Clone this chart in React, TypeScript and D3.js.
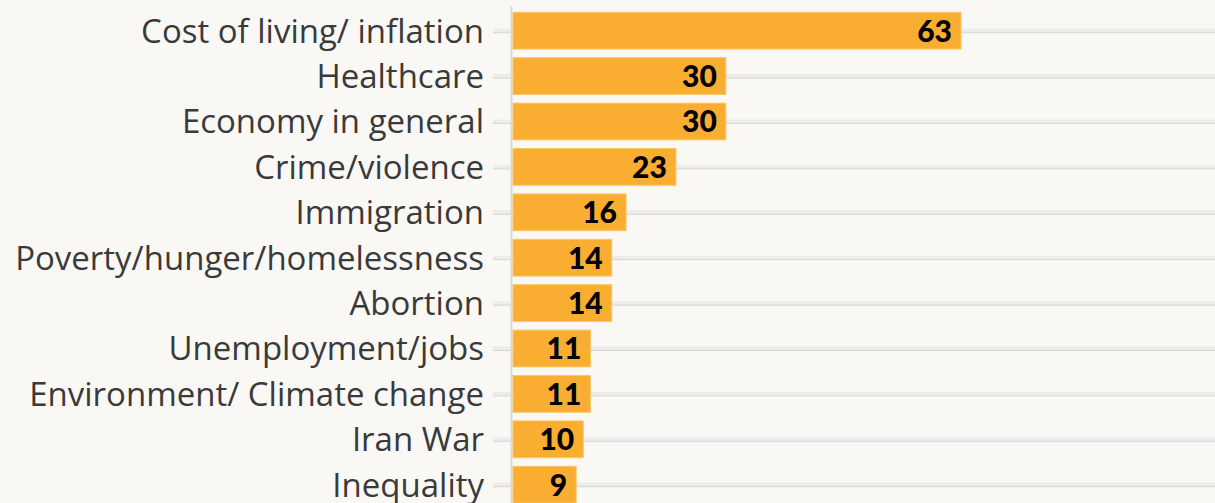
import { useEffect, useRef } from 'react'
import * as d3 from 'd3'

const categories = [
  'Cost of living/ inflation',
  'Healthcare',
  'Economy in general',
  'Crime/violence',
  'Immigration',
  'Poverty/hunger/homelessness',
  'Abortion',
  'Unemployment/jobs',
  'Environment/ Climate change',
  'Iran War',
  'Inequality',
]
const values = [63, 30, 30, 23, 16, 14, 14, 11, 11, 10, 9]

export default () => {
  const svgRef = useRef<SVGSVGElement>(null)

  useEffect(() => {
    const width = 1215,
      height = 503
    const margin = { top: 8, left: 512 }

    const svg = d3.select(svgRef.current)
    svg.selectAll('*').remove()
    svg
      .attr('width', width)
      .attr('height', height)
      .style('display', 'block')
      .style('background-color', '#f9f8f5')

    const x = d3.scaleLinear().domain([0, 63]).range([margin.left, 961])
    const y = d3
      .scaleBand()
      .domain(categories)
      .range([margin.top, margin.top + 45.4 * 11])
      .paddingInner(0.19)
      .paddingOuter(0.095)

    const rows = svg
      .selectAll('g.row')
      .data(categories)
      .join('g')
      .attr('class', 'row')
      .attr('transform', (d) => `translate(0,${y(d)! + y.bandwidth() / 2})`)

    // gridlines + left ticks
    rows
      .append('rect')
      .attr('x', 493)
      .attr('y', -2)
      .attr('width', width - 493)
      .attr('height', 4)
      .style('fill', '#ececea')
    rows
      .append('line')
      .attr('x1', 493)
      .attr('x2', width)
      .attr('y1', 2)
      .attr('y2', 2)
      .style('stroke', '#d6d6d4')
      .style('stroke-width', 1)

    // axis line
    svg
      .append('line')
      .attr('x1', 511.5)
      .attr('x2', 511.5)
      .attr('y1', 6)
      .attr('y2', height)
      .style('stroke', '#d9d9d7')
      .style('stroke-width', 2)

    svg
      .selectAll('rect.bar')
      .data(values)
      .join('rect')
      .attr('class', 'bar')
      .attr('x', x(0) + 1)
      .attr('y', (_, i) => y(categories[i])!)
      .attr('width', (d) => x(d) - x(0) - 1)
      .attr('height', y.bandwidth())
      .style('fill', '#f9ad31')
      .style('stroke', '#fbc56a')
      .style('stroke-width', 1)

    svg
      .selectAll('text.val')
      .data(values)
      .join('text')
      .attr('class', 'val')
      .attr('x', (d) => x(d) - 9)
      .attr('y', (_, i) => y(categories[i])! + y.bandwidth() / 2)
      .attr('dy', '0.36em')
      .attr('text-anchor', 'end')
      .style('font-family', 'Lato, sans-serif')
      .style('font-weight', 900)
      .style('font-size', '30px')
      .style('fill', '#000')
      .style('stroke', '#f9ad31')
      .style('stroke-width', 2)
      .style('paint-order', 'stroke')
      .text((d) => d)

    const labels = svg
      .selectAll('text.cat')
      .data(categories)
      .join('text')
      .attr('class', 'cat')
      .attr('x', 484)
      .attr('y', (d) => y(d)! + y.bandwidth() / 2)
      .attr('dy', '0.36em')
      .attr('text-anchor', 'end')
      .style('font-family', '"Open Sans", sans-serif')
      .style('font-size', '29px')
      .style('font-variant-ligatures', 'none')
      .style('fill', '#3a3a3a')
      .text((d) => d)

    // size the labels so the widest one matches the reference width
    const longest = labels.filter((d) => d === 'Poverty/hunger/homelessness').node() as SVGTextElement
    if (longest) {
      const w = longest.getComputedTextLength()
      labels.style('font-size', `${(29 * 469) / w}px`)
    }
  }, [])

  return (
    <div style={{ position: 'fixed', left: 0, top: 0 }}>
      <svg ref={svgRef}></svg>
    </div>
  )
}
